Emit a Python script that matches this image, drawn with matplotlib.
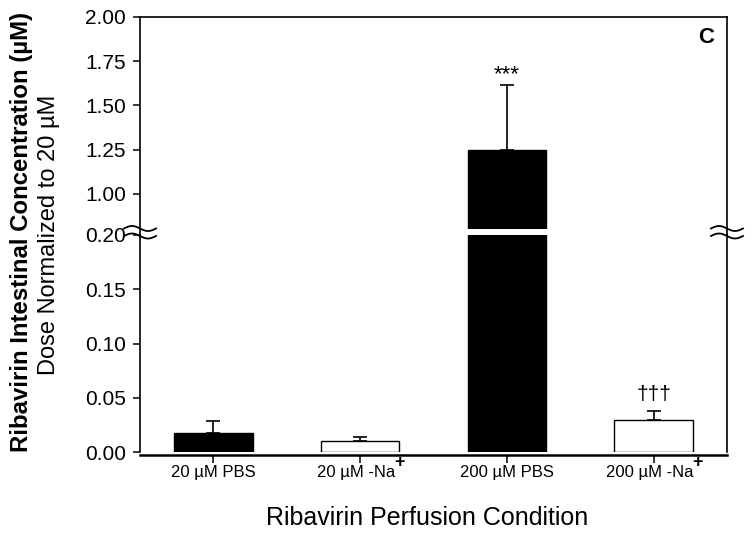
import numpy as np
import matplotlib
matplotlib.use('Agg')
import matplotlib.pyplot as plt
from matplotlib.lines import Line2D
from matplotlib.transforms import blended_transform_factory, ScaledTranslation

plt.rcParams['font.family'] = ['Liberation Sans', 'DejaVu Sans']

# data
conditions = ['20 \u00b5M PBS', '20 \u00b5M -Na', '200 \u00b5M PBS', '200 \u00b5M -Na']
superscripts = ['', '+', '', '+']
means = [0.0179, 0.0105, 1.245, 0.0296]
errs = [0.011, 0.0037, 0.368, 0.0078]
colors = ['black', 'white', 'black', 'white']
marks = ['', '', '***', '\u2020\u2020\u2020']

W, H = 754, 536
fig = plt.figure(figsize=(W / 100, H / 100), dpi=100)

def fx(px):
    return px / W

def fy(py):
    return (H - py) / H

left, right = 140, 727
lo_bot, lo_top = 452, 235
up_bot, up_top = 229, 17

ax_lo = fig.add_axes([fx(left), fy(lo_bot), fx(right - left), fy(lo_top) - fy(lo_bot)])
ax_up = fig.add_axes([fx(left), fy(up_bot), fx(right - left), fy(up_top) - fy(up_bot)])

x = np.arange(len(means))
for ax in (ax_lo, ax_up):
    ax.bar(x, means, width=0.535, color=colors, edgecolor='black', linewidth=1.0, zorder=2)
    for i in range(len(means)):
        ax.errorbar(x[i], means[i], yerr=[[0], [errs[i]]], fmt='none', ecolor='black',
                    elinewidth=1.2, capsize=4.8, capthick=1.2, zorder=1)
    ax.set_xlim(-0.5, 3.5)
    for s in ax.spines.values():
        s.set_linewidth(1.2)
    ax.tick_params(axis='y', direction='out', length=5, width=1.1, labelsize=15, pad=5)

ax_lo.set_ylim(0, 0.2)
ax_lo.set_yticks([0.0, 0.05, 0.10, 0.15, 0.20])
ax_lo.set_yticklabels(['0.00', '0.05', '0.10', '0.15', '0.20'])
ax_lo.spines['top'].set_visible(False)
ax_lo.spines['bottom'].set_position(('outward', 2))
ax_lo.spines['bottom'].set_linewidth(1.8)
ax_lo.set_xticks(x)
ax_lo.set_xticklabels([])
ax_lo.tick_params(axis='x', direction='out', length=6, width=1.1)

# category labels, with a bold superscript "+" added as its own text
trans = blended_transform_factory(ax_lo.transData, fig.transFigure)
for i, lab in enumerate(conditions):
    tr = trans
    if superscripts[i]:
        tr = trans + ScaledTranslation(-4 / 100, 0, fig.dpi_scale_trans)
    t = ax_lo.text(x[i], fy(477), lab, transform=tr, ha='center', va='baseline', fontsize=12)
    if superscripts[i]:
        ax_lo.annotate(superscripts[i], xy=(1, 1), xycoords=t, xytext=(-1, -4.5),
                       textcoords='offset points', ha='left', va='bottom',
                       fontsize=13, fontweight='bold')
fig.text(fx(427), fy(518), 'Ribavirin Perfusion Condition', ha='center', va='center', fontsize=18)

ax_up.set_ylim(0.8, 2.0)
ax_up.set_yticks([1.0, 1.25, 1.5, 1.75, 2.0])
ax_up.set_yticklabels(['1.00', '1.25', '1.50', '1.75', '2.00'])
ax_up.spines['bottom'].set_visible(False)
ax_up.set_xticks([])

# significance marks
ax_up.text(x[2], means[2] + errs[2] + 0.0, marks[2], ha='center', va='bottom', fontsize=16)
ax_lo.text(x[3], means[3] + errs[3] + 0.007, marks[3], ha='center', va='bottom', fontsize=15)

ax_up.text(0.978, 0.955, 'C', transform=ax_up.transAxes, ha='right', va='top',
           fontsize=16, fontweight='bold')

# y labels
fig.text(fx(22), fy(232), 'Ribavirin Intestinal Concentration (\u00b5M)', rotation=90,
         ha='center', va='center', fontsize=17.3, fontweight='bold')
fig.text(fx(49), fy(235), 'Dose Normalized to 20 \u00b5M', rotation=90,
         ha='center', va='center', fontsize=17)

# spines across the gap and break marks
for xs in (left, right):
    fig.add_artist(Line2D([fx(xs), fx(xs)], [fy(lo_top), fy(up_bot)], color='black', lw=1.2))
    tt = np.linspace(0, 1, 60)
    for yc in (228.5, 236.0):
        px = xs - 16 + 32 * tt
        py = yc - 2.5 * np.sin(2 * np.pi * tt)
        fig.add_artist(Line2D(fx(px), fy(py), color='black', lw=1.3))

fig.savefig('out.png', dpi=100)
